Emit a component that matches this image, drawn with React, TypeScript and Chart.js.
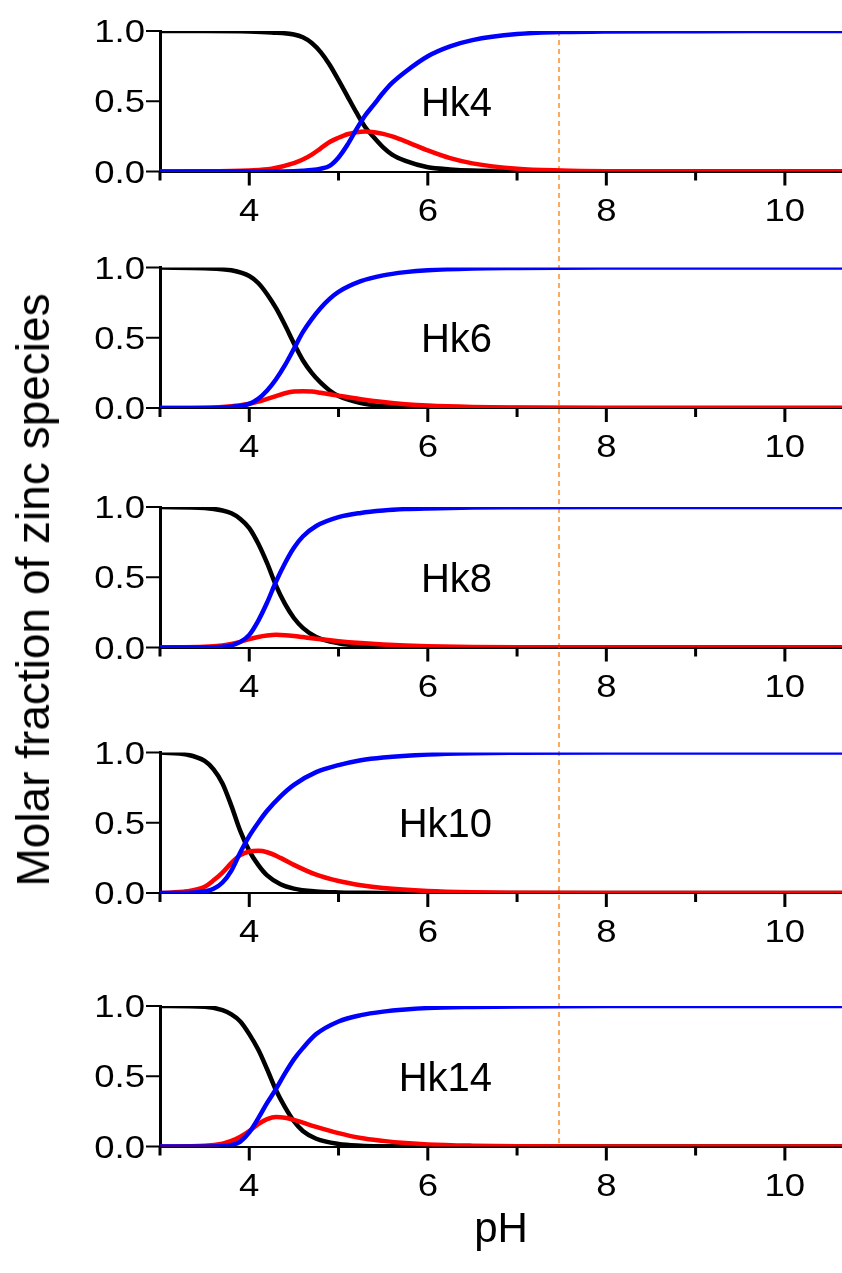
import React, { useEffect, useRef } from 'react';
import { Chart, registerables } from 'chart.js';

Chart.register(...registerables);

// ---- axis ranges and ticks ----
const PH_MIN = 3;
const PH_MAX = 10.64;
const MARKER_PH = [7.47];
const X_MAJOR_TICKS = [4, 6, 8, 10];
const X_TICK_LABELS = ['4', '6', '8', '10'];
const X_MINOR_TICKS = [3, 5, 7, 9];
const Y_TICKS = [0, 0.5, 1];
const Y_TICK_LABELS = ['0.0', '0.5', '1.0'];

// ---- panel names ----
const PANEL_NAMES = ['Hk4', 'Hk6', 'Hk8', 'Hk10', 'Hk14'];

// ---- species fractions (free Zn, intermediate, bound) per peptide ----
const HK4_PH = [3, 3.5, 4, 4.25, 4.5, 4.6, 4.7, 4.8, 4.9, 5.0, 5.1, 5.2, 5.3, 5.4, 5.5, 5.6, 5.75, 6, 6.25, 6.5, 7, 7.5, 8, 9, 10.7];
const HK4_FREE = [1, 1, 0.997, 0.99, 0.975, 0.955, 0.915, 0.85, 0.76, 0.65, 0.535, 0.42, 0.315, 0.24, 0.172, 0.12, 0.075, 0.03, 0.015, 0.007, 0.002, 0, 0, 0, 0];
const HK4_MID = [0, 0.001, 0.008, 0.02, 0.06, 0.085, 0.12, 0.165, 0.21, 0.24, 0.265, 0.28, 0.285, 0.28, 0.268, 0.25, 0.215, 0.15, 0.095, 0.058, 0.02, 0.007, 0.002, 0, 0];
const HK4_BOUND = [0, 0, 0, 0, 0.002, 0.005, 0.01, 0.02, 0.04, 0.1, 0.19, 0.3, 0.4, 0.48, 0.56, 0.63, 0.71, 0.82, 0.89, 0.935, 0.978, 0.992, 0.997, 0.999, 1];

const HK6_PH = [3, 3.5, 3.8, 4.0, 4.1, 4.2, 4.3, 4.4, 4.5, 4.6, 4.7, 4.8, 4.9, 5.0, 5.25, 5.5, 5.75, 6, 6.5, 7, 7.5, 8, 10.7];
const HK6_FREE = [1, 0.995, 0.98, 0.94, 0.89, 0.81, 0.71, 0.59, 0.46, 0.34, 0.25, 0.18, 0.125, 0.085, 0.035, 0.014, 0.006, 0.002, 0, 0, 0, 0, 0];
const HK6_MID = [0, 0.002, 0.012, 0.03, 0.045, 0.065, 0.085, 0.105, 0.118, 0.12, 0.117, 0.108, 0.098, 0.088, 0.062, 0.042, 0.027, 0.017, 0.007, 0.003, 0.001, 0, 0];
const HK6_BOUND = [0, 0, 0.008, 0.03, 0.065, 0.125, 0.205, 0.305, 0.422, 0.54, 0.633, 0.712, 0.777, 0.827, 0.903, 0.944, 0.967, 0.981, 0.993, 0.997, 0.999, 1, 1];

const HK8_PH = [3, 3.5, 3.7, 3.8, 3.9, 4.0, 4.1, 4.2, 4.3, 4.4, 4.5, 4.6, 4.75, 5, 5.25, 5.5, 5.75, 6, 6.5, 7, 8, 10.7];
const HK8_FREE = [1, 0.993, 0.975, 0.955, 0.915, 0.85, 0.74, 0.6, 0.44, 0.31, 0.21, 0.14, 0.075, 0.03, 0.012, 0.005, 0.002, 0.001, 0, 0, 0, 0];
const HK8_MID = [0, 0.005, 0.015, 0.025, 0.04, 0.06, 0.075, 0.085, 0.09, 0.088, 0.082, 0.074, 0.062, 0.045, 0.032, 0.022, 0.014, 0.009, 0.004, 0.0015, 0, 0];
const HK8_BOUND = [0, 0, 0.005, 0.015, 0.04, 0.09, 0.19, 0.32, 0.47, 0.6, 0.71, 0.79, 0.865, 0.928, 0.958, 0.975, 0.985, 0.99, 0.996, 0.998, 1, 1];

const HK10_PH = [3, 3.3, 3.5, 3.6, 3.7, 3.8, 3.9, 4.0, 4.1, 4.2, 4.35, 4.5, 4.75, 5, 5.25, 5.5, 6, 6.5, 7, 8, 10.7];
const HK10_FREE = [1, 0.985, 0.94, 0.88, 0.78, 0.62, 0.44, 0.3, 0.2, 0.125, 0.062, 0.031, 0.011, 0.004, 0.0015, 0, 0, 0, 0, 0, 0];
const HK10_MID = [0, 0.012, 0.045, 0.09, 0.145, 0.215, 0.27, 0.295, 0.3, 0.29, 0.25, 0.2, 0.13, 0.085, 0.055, 0.035, 0.014, 0.005, 0.002, 0, 0];
const HK10_BOUND = [0, 0, 0.012, 0.03, 0.075, 0.16, 0.29, 0.405, 0.5, 0.585, 0.688, 0.77, 0.86, 0.91, 0.945, 0.965, 0.986, 0.995, 0.998, 1, 1];

const HK14_PH = [3, 3.5, 3.7, 3.8, 3.9, 4.0, 4.1, 4.2, 4.3, 4.4, 4.5, 4.6, 4.75, 5, 5.25, 5.5, 5.75, 6, 6.5, 7, 8, 10.7];
const HK14_FREE = [1, 0.995, 0.97, 0.94, 0.89, 0.8, 0.69, 0.55, 0.4, 0.28, 0.18, 0.11, 0.055, 0.018, 0.006, 0.002, 0.001, 0, 0, 0, 0, 0];
const HK14_MID = [0, 0.005, 0.02, 0.04, 0.07, 0.11, 0.16, 0.195, 0.21, 0.205, 0.19, 0.17, 0.14, 0.095, 0.06, 0.04, 0.025, 0.015, 0.006, 0.002, 0, 0];
const HK14_BOUND = [0, 0, 0.003, 0.01, 0.035, 0.1, 0.2, 0.31, 0.41, 0.52, 0.62, 0.7, 0.8, 0.89, 0.935, 0.96, 0.975, 0.985, 0.993, 0.997, 1, 1];

const PANEL_PH = [HK4_PH, HK6_PH, HK8_PH, HK10_PH, HK14_PH];
const PANEL_FREE = [HK4_FREE, HK6_FREE, HK8_FREE, HK10_FREE, HK14_FREE];
const PANEL_MID = [HK4_MID, HK6_MID, HK8_MID, HK10_MID, HK14_MID];
const PANEL_BOUND = [HK4_BOUND, HK6_BOUND, HK8_BOUND, HK10_BOUND, HK14_BOUND];

// ---- layout ----
const WIDTH = 842;
const HEIGHT = 1273;
const PLOT_LEFT = 160;
const PLOT_H = 140.5;
const PANEL_TOPS = [31, 267.5, 507, 752.5, 1006];
const CANVAS_TOPS = PANEL_TOPS.map((t) => Math.floor(t) - 24);
const NAME_ANCHOR_PH = 6.72;
const NAME_ANCHOR_Y = 0.5;

const FONT = '"Liberation Sans", Arial, Helvetica, sans-serif';
const TICK_FONT_PX = 31;
const TICK_STRETCH = 1.18;

function stretchedText(ctx: CanvasRenderingContext2D, text: string, x: number, y: number, align: CanvasTextAlign, sx: number) {
  ctx.save();
  ctx.translate(x, y);
  ctx.scale(sx, 1);
  ctx.textAlign = align;
  ctx.textBaseline = 'alphabetic';
  ctx.fillText(text, 0, 0);
  ctx.restore();
}

const panelDecor = {
  id: 'panelDecor',
  beforeDatasetsDraw(chart: any, _args: any, opts: any) {
    const { ctx, chartArea, scales } = chart;
    const xs = scales.x;
    const first = opts.index === 0;
    const last = opts.index === PANEL_NAMES.length - 1;
    const y0 = first ? chartArea.top : 0;
    const y1 = last ? chartArea.bottom : chart.height;
    ctx.save();
    ctx.strokeStyle = 'rgb(248,170,96)';
    ctx.lineWidth = 2;
    ctx.setLineDash([5, 4]);
    ctx.lineDashOffset = opts.canvasTop + y0 - PANEL_TOPS[0];
    for (const v of MARKER_PH) {
      const x = xs.getPixelForValue(v);
      ctx.beginPath();
      ctx.moveTo(x, y0);
      ctx.lineTo(x, y1);
      ctx.stroke();
    }
    ctx.restore();
  },
  afterDatasetsDraw(chart: any, _args: any, opts: any) {
    const { ctx, chartArea, scales } = chart;
    const xs = scales.x;
    const ys = scales.y;
    const bottom = chartArea.bottom;
    const left = chartArea.left;
    ctx.save();
    ctx.strokeStyle = '#000';
    ctx.fillStyle = '#000';
    // x tick marks (outward)
    ctx.lineWidth = 3;
    for (const v of X_MAJOR_TICKS) {
      const x = xs.getPixelForValue(v);
      ctx.beginPath();
      ctx.moveTo(x, bottom);
      ctx.lineTo(x, bottom + 14);
      ctx.stroke();
    }
    for (const v of X_MINOR_TICKS) {
      const x = xs.getPixelForValue(v);
      ctx.beginPath();
      ctx.moveTo(x, bottom);
      ctx.lineTo(x, bottom + 9);
      ctx.stroke();
    }
    // y tick marks (outward)
    ctx.lineWidth = 2;
    for (const v of Y_TICKS) {
      const y = ys.getPixelForValue(v);
      ctx.beginPath();
      ctx.moveTo(left - 14, y);
      ctx.lineTo(left, y);
      ctx.stroke();
    }
    // tick labels
    ctx.font = `${TICK_FONT_PX}px ${FONT}`;
    const cap = TICK_FONT_PX * 0.716;
    X_MAJOR_TICKS.forEach((v, i) => {
      stretchedText(ctx, X_TICK_LABELS[i], xs.getPixelForValue(v), bottom + 49, 'center', TICK_STRETCH);
    });
    Y_TICKS.forEach((v, i) => {
      stretchedText(ctx, Y_TICK_LABELS[i], left - 15, ys.getPixelForValue(v) + cap / 2, 'right', TICK_STRETCH);
    });
    // panel name
    ctx.font = `40px ${FONT}`;
    ctx.textAlign = 'right';
    ctx.textBaseline = 'alphabetic';
    ctx.fillText(PANEL_NAMES[opts.index], xs.getPixelForValue(NAME_ANCHOR_PH), ys.getPixelForValue(NAME_ANCHOR_Y) + 40 * 0.716 / 2);
    ctx.restore();
  },
};

function series(ph: number[], vals: number[]) {
  return ph.map((x, i) => ({ x, y: vals[i] }));
}

function Panel({ index }: { index: number }) {
  const ref = useRef<HTMLCanvasElement | null>(null);
  const canvasTop = CANVAS_TOPS[index];
  const canvasBottom = index < CANVAS_TOPS.length - 1 ? CANVAS_TOPS[index + 1] : HEIGHT;
  const canvasH = canvasBottom - canvasTop;
  const padTop = PANEL_TOPS[index] - canvasTop;
  const xAxisH = canvasH - padTop - PLOT_H;

  useEffect(() => {
    if (!ref.current) return;
    const ph = PANEL_PH[index];
    const chart = new Chart(ref.current, {
      type: 'line',
      data: {
        datasets: [
          { label: 'free', data: series(ph, PANEL_FREE[index]), borderColor: '#000000', order: 2 },
          { label: 'intermediate', data: series(ph, PANEL_MID[index]), borderColor: '#ff0000', order: 1 },
          { label: 'bound', data: series(ph, PANEL_BOUND[index]), borderColor: '#0000ff', order: 0 },
        ],
      },
      options: {
        responsive: false,
        animation: false,
        devicePixelRatio: 1,
        events: [],
        layout: { padding: { top: padTop, left: 0, right: 0, bottom: 0 } },
        elements: {
          point: { radius: 0 },
          line: { borderWidth: 4.5, cubicInterpolationMode: 'monotone', fill: false },
        },
        plugins: {
          legend: { display: false },
          tooltip: { enabled: false },
          title: { display: false },
          panelDecor: { index, canvasTop },
        } as any,
        scales: {
          x: {
            type: 'linear',
            min: PH_MIN,
            max: PH_MAX,
            ticks: { display: false },
            grid: { display: false },
            border: { display: true, color: '#000', width: 2 },
            afterFit: (s: any) => { s.height = xAxisH; },
          },
          y: {
            type: 'linear',
            min: 0,
            max: 1,
            ticks: { display: false },
            grid: { display: false },
            border: { display: true, color: '#000', width: 3 },
            afterFit: (s: any) => { s.width = PLOT_LEFT; },
          },
        },
      },
      plugins: [panelDecor as any],
    });
    return () => chart.destroy();
  }, [index]);

  return (
    <canvas
      ref={ref}
      width={WIDTH}
      height={canvasH}
      style={{ position: 'absolute', left: 0, top: canvasTop, width: WIDTH, height: canvasH, display: 'block' }}
    />
  );
}

export default function App() {
  return (
    <div style={{ position: 'absolute', left: 0, top: 0, width: WIDTH, height: HEIGHT, background: '#fff', overflow: 'hidden' }}>
      {PANEL_NAMES.map((_, i) => (
        <Panel key={i} index={i} />
      ))}
      <div
        style={{
          position: 'absolute',
          left: 33,
          top: 590,
          transform: 'translate(-50%, -50%) rotate(-90deg)',
          whiteSpace: 'nowrap',
          font: `46px ${FONT}`,
          lineHeight: 1,
          color: '#000',
        }}
      >
        Molar fraction of zinc species
      </div>
      <div
        style={{
          position: 'absolute',
          left: 501,
          top: 1207,
          transform: 'translate(-50%, 0)',
          whiteSpace: 'nowrap',
          font: `42px ${FONT}`,
          lineHeight: 1,
          color: '#000',
        }}
      >
        pH
      </div>
    </div>
  );
}
